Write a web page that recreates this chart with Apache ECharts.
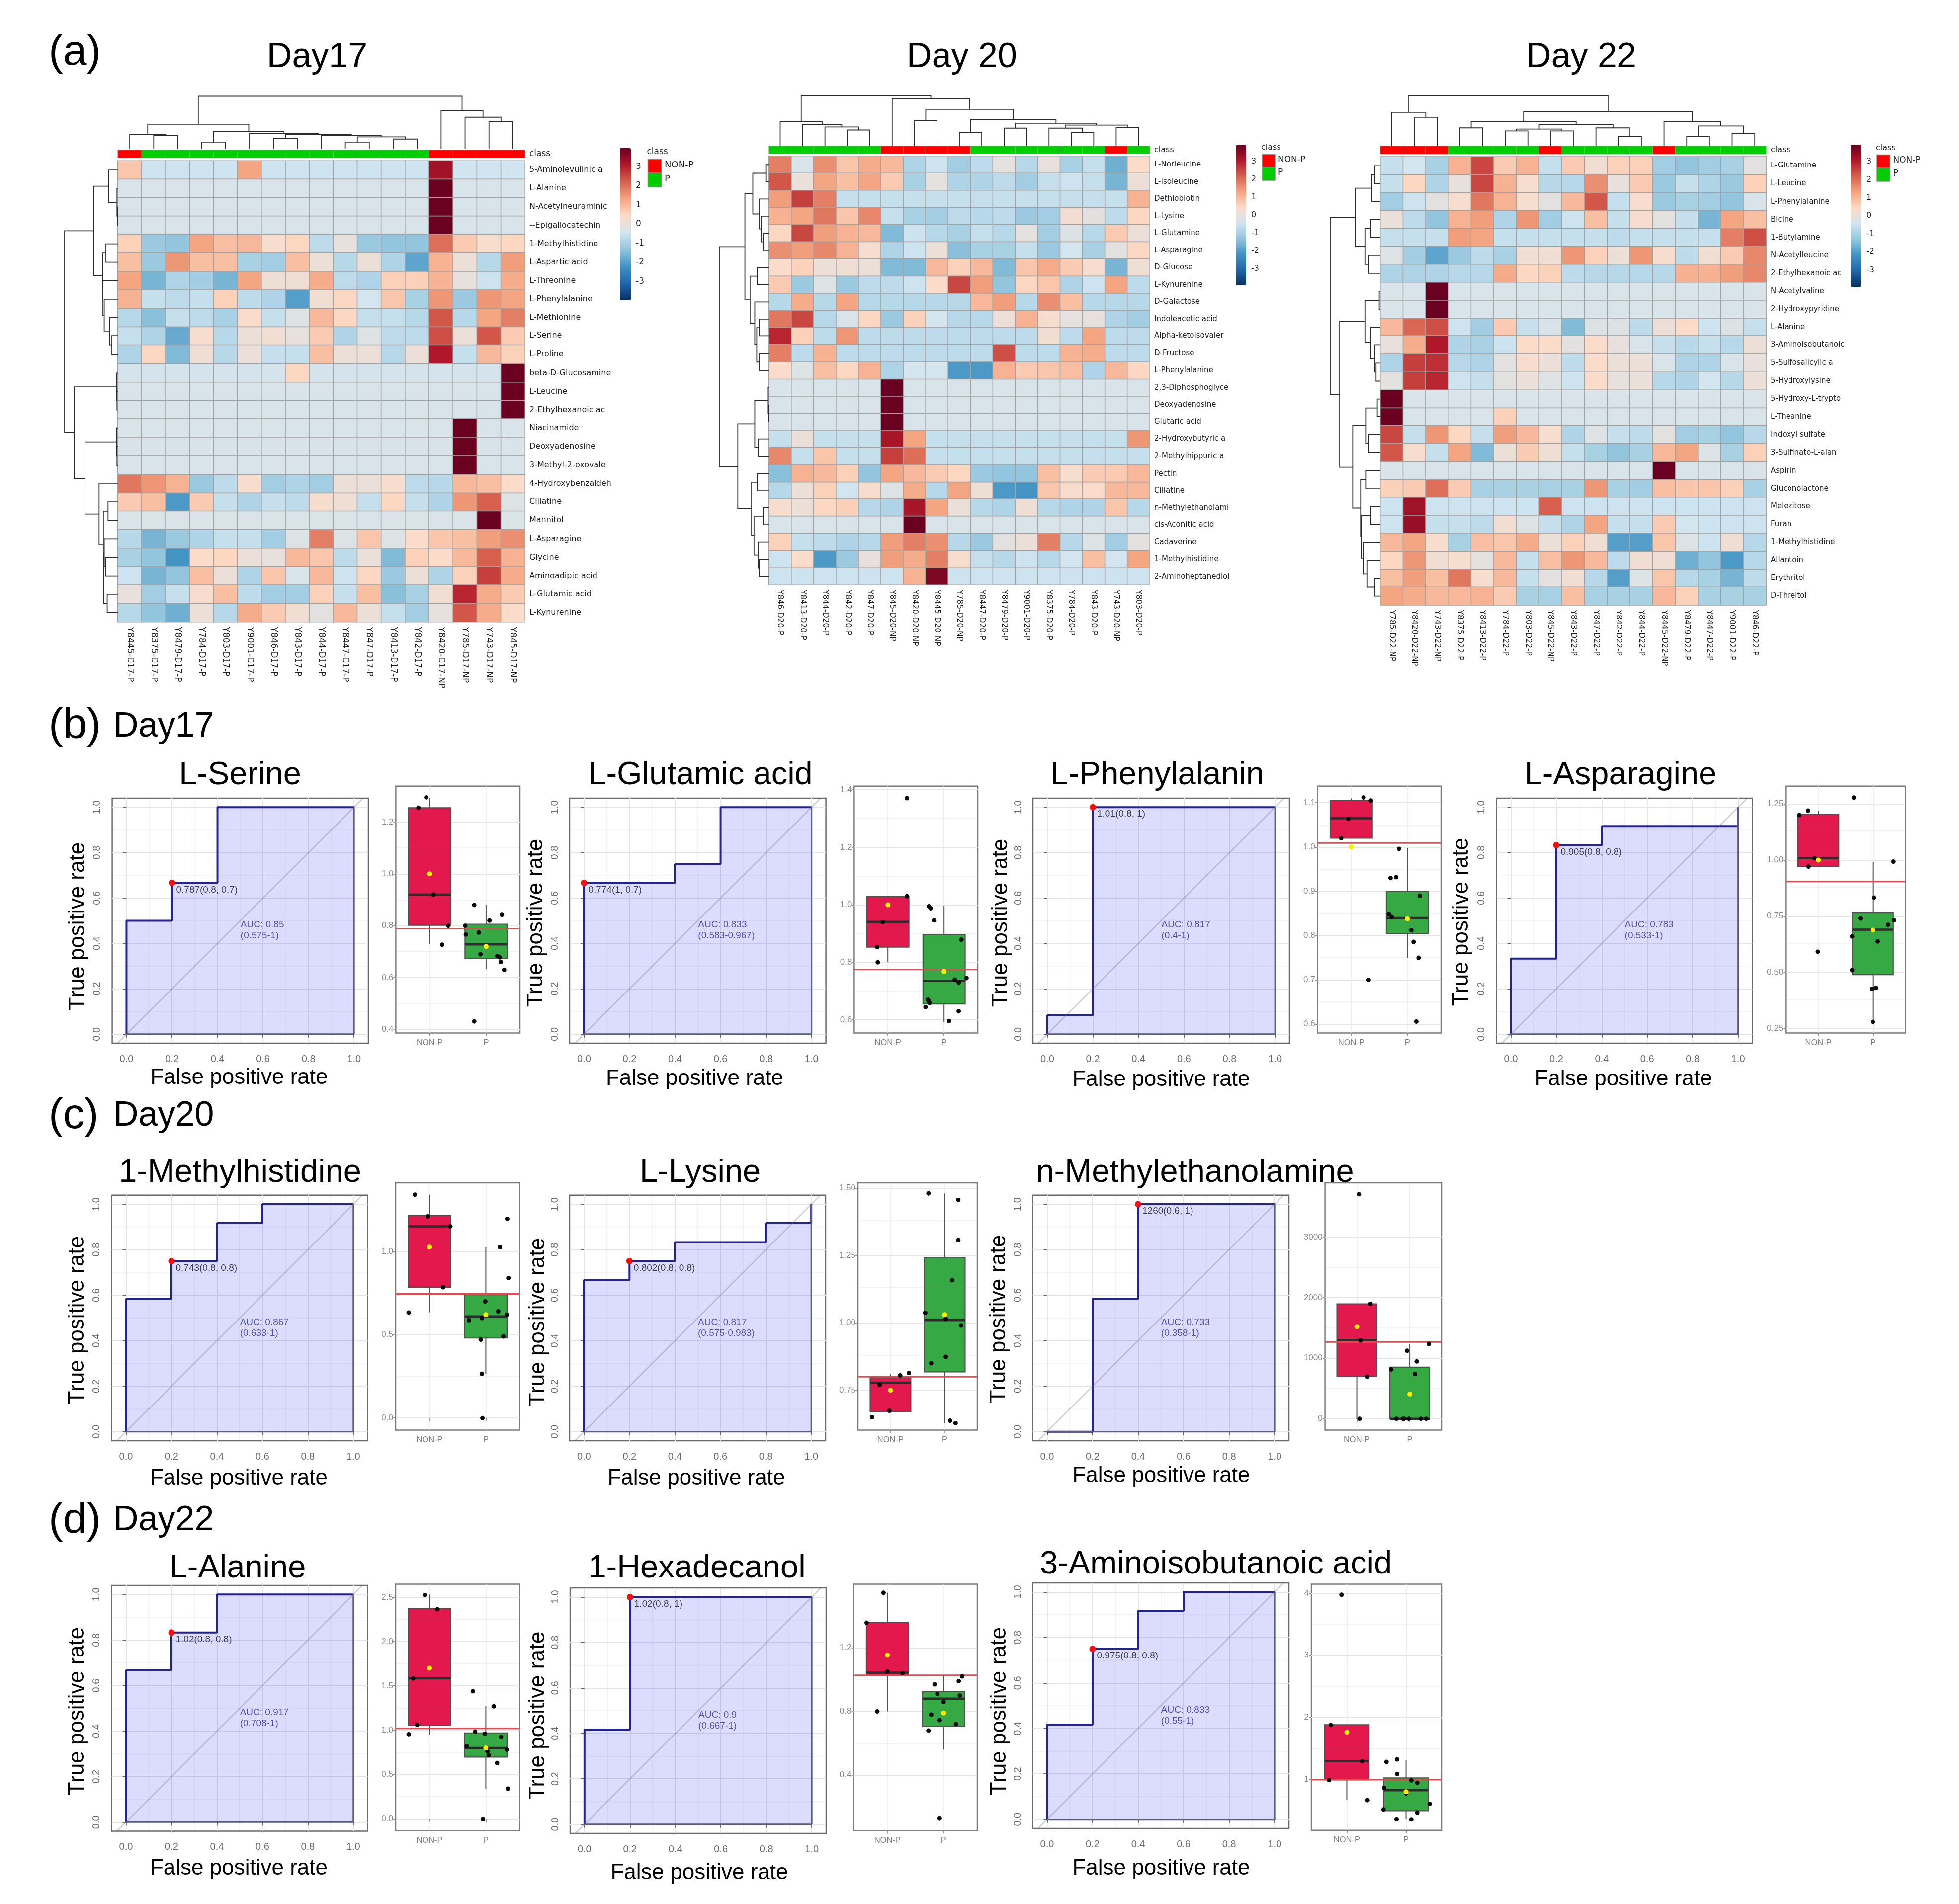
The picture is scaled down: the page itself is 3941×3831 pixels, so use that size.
<!DOCTYPE html>
<html><head><meta charset="utf-8"><style>html,body{margin:0;padding:0;background:#fff}#c{width:3941px;height:3831px}</style>
<script src="https://cdn.jsdelivr.net/npm/echarts@6/dist/echarts.min.js"></script></head>
<body><div id="c"></div><script>
// ---------- heatmap data ----------
const d17Rows=['5-Aminolevulinic a','L-Alanine','N-Acetylneuraminic','--Epigallocatechin','1-Methylhistidine','L-Aspartic acid','L-Threonine','L-Phenylalanine','L-Methionine','L-Serine','L-Proline','beta-D-Glucosamine','L-Leucine','2-Ethylhexanoic ac','Niacinamide','Deoxyadenosine','3-Methyl-2-oxovale','4-Hydroxybenzaldeh','Ciliatine','Mannitol','L-Asparagine','Glycine','Aminoadipic acid','L-Glutamic acid','L-Kynurenine'];
const d17Cols=['Y8445-D17-P','Y8375-D17-P','Y8479-D17-P','Y784-D17-P','Y803-D17-P','Y9001-D17-P','Y846-D17-P','Y843-D17-P','Y844-D17-P','Y8447-D17-P','Y847-D17-P','Y8413-D17-P','Y842-D17-P','Y8420-D17-NP','Y785-D17-NP','Y743-D17-NP','Y845-D17-NP'];
const d17Class=[1,0,0,0,0,0,0,0,0,0,0,0,0,1,1,1,1];
const d17Vals=[
[.8,-.5,-.5,-.5,-.5,1.3,-.5,-.5,-.5,-.5,-.5,-.5,-.5,3.3,-.45,-.45,-.45],
[-.3,-.3,-.3,-.3,-.3,-.3,-.3,-.3,-.3,-.3,-.3,-.3,-.3,3.9,-.3,-.3,-.3],
[-.3,-.3,-.3,-.3,-.3,-.3,-.3,-.3,-.3,-.3,-.3,-.3,-.3,3.9,-.3,-.3,-.3],
[-.3,-.3,-.3,-.3,-.3,-.3,-.3,-.3,-.3,-.3,-.3,-.3,-.3,3.9,-.3,-.3,-.3],
[.6,-1.2,-1.3,1.3,.9,1,.3,.5,-.7,0,-1.2,-1.3,-1.3,2,.7,.3,.5],
[.9,-1.2,1.5,.9,.9,-1,-1.1,.9,.1,-.8,.1,-.9,-1.9,1.1,.1,-.8,1.4],
[1.3,-1.6,-.9,-1.1,-1.6,1.3,.15,.15,1.2,-.7,-.9,.6,.6,1.1,0,-.5,1.2],
[1.1,-.6,-.7,-.6,.6,-.7,-.9,-2,.2,.5,-.4,.8,-1,1.5,-1.2,1.5,1.3],
[-.8,-1.4,-.6,-.7,-1,.4,-.6,-.2,1,.5,-.6,-.6,-.8,2.3,-.8,1.3,1.8],
[-.6,-.9,-1.8,.3,-.8,.1,.2,0,.7,-.9,-.2,-.7,-.7,2.4,.1,2.3,.7],
[-.9,.5,-1.5,.15,-.8,.05,-.6,-.6,.9,.1,.1,-.8,.1,3.1,-.6,1,.6],
[-.35,-.35,-.35,-.35,-.35,-.35,-.35,.5,-.35,-.35,-.35,-.35,-.35,-.35,-.35,-.35,3.9],
[-.3,-.3,-.3,-.3,-.3,-.3,-.3,-.3,-.3,-.3,-.3,-.3,-.3,-.3,-.3,-.3,3.9],
[-.3,-.3,-.3,-.3,-.3,-.3,-.3,-.3,-.3,-.3,-.3,-.3,-.3,-.3,-.3,-.3,3.9],
[-.3,-.3,-.3,-.3,-.3,-.3,-.3,-.3,-.3,-.3,-.3,-.3,-.3,-.3,3.9,-.3,-.3],
[-.3,-.3,-.3,-.3,-.3,-.3,-.3,-.3,-.3,-.3,-.3,-.3,-.3,-.3,3.9,-.3,-.3],
[-.3,-.3,-.3,-.3,-.3,-.3,-.3,-.3,-.3,-.3,-.3,-.3,-.3,-.3,3.9,-.3,-.3],
[1.9,1.5,1.1,-1.2,-.7,.3,-1.1,-.9,-1.1,.1,.05,.3,-.7,-.8,1,.9,.4],
[.7,.9,-2.1,.7,-.6,-.9,-.6,-.7,.3,.15,-.6,.5,-.6,-.9,1.5,2.2,-.2],
[-.25,-.25,-.25,-.25,-.25,-.25,-.25,-.25,-.25,-.25,-.25,-.25,-.25,-.25,-.25,3.9,-.25],
[-.8,-1.6,-1.2,-.9,-.6,-.6,-1.1,-.2,1.8,-.2,.8,-.2,.4,.8,.9,1.4,1.6],
[-1,-1.3,-2.2,.4,.5,.05,0,1,.8,-.7,.05,-1.5,.6,.4,1,2.2,1.1],
[-.5,-1.6,-1.3,.9,.1,-.9,.8,-.3,1,-.5,.5,-1.2,.1,-.9,.6,2.6,1.2],
[0,-1.1,-.6,.3,.9,-.7,-1.1,-1.1,.6,-.6,.9,-1.4,-1,.2,2.9,1.2,.7],
[-.8,-1.3,-1.7,.1,-.8,1.2,.7,.2,-.1,1,.1,-.6,-1.1,0,2.3,1.2,.4]];
const d20Rows=['L-Norleucine','L-Isoleucine','Dethiobiotin','L-Lysine','L-Glutamine','L-Asparagine','D-Glucose','L-Kynurenine','D-Galactose','Indoleacetic acid','Alpha-ketoisovaler','D-Fructose','L-Phenylalanine','2,3-Diphosphoglyce','Deoxyadenosine','Glutaric acid','2-Hydroxybutyric a','2-Methylhippuric a','Pectin','Ciliatine','n-Methylethanolami','cis-Aconitic acid','Cadaverine','1-Methylhistidine','2-Aminoheptanedioi'];
const d20Cols=['Y846-D20-P','Y8413-D20-P','Y844-D20-P','Y842-D20-P','Y847-D20-P','Y845-D20-NP','Y8420-D20-NP','Y8445-D20-NP','Y785-D20-NP','Y8447-D20-P','Y8479-D20-P','Y9001-D20-P','Y8375-D20-P','Y784-D20-P','Y843-D20-P','Y743-D20-NP','Y803-D20-P'];
const d20Class=[0,0,0,0,0,1,1,1,1,0,0,0,0,0,0,1,0];
const d20Vals=[
[1.8,-.3,1.6,.8,1.2,1,-.9,-.5,-1.1,-.7,-.05,-.8,0,-1,-.6,-1.7,.4],
[2.3,.05,1.3,.9,1.3,.7,-1,-.1,-.9,-.9,-.7,-1.1,-.6,-.5,-.6,-1.6,.1],
[1.4,2.6,1.8,-.6,-.6,-.6,-.6,-.6,-.6,-.6,-.6,-.6,-.6,-.6,-.6,-.6,1.1],
[1.1,1.3,1.9,.8,1.7,-.6,-1,-1.1,-.7,-.8,-.7,-1.2,-1.1,.2,-.1,-.7,.5],
[.5,2.5,1.4,1.1,1,-1.5,-.5,-.8,-1,-.6,-.8,-.05,-1.1,-.2,-.8,.7,.1],
[1.6,1.4,1.7,1.1,.3,-.9,-.5,.1,-1.4,-1,-1,-.6,-1.2,-.4,-1,-.1,.5],
[.4,.6,.1,.15,.1,-1.5,-1.5,1,.6,1,-1.5,.8,1.2,.7,.3,-1.6,.15],
[.7,-1.2,-.2,-1.2,-.7,-.7,-.5,.4,2.5,1.4,-1.3,.5,.8,-.9,-.5,1.3,-.7],
[-.8,1.2,-.8,1.3,-.8,-.8,-.8,-.8,-.8,1,1.4,-.8,1.6,.9,-.8,-.8,-.8],
[1.9,2.5,-.8,-.3,.5,-1.2,.6,-.4,-.8,-.8,.1,1.1,.3,-.05,0,-.9,-1.1],
[2.9,.6,-.7,1.5,-.7,-.7,-.7,-.7,-.7,-.7,-.7,-.7,.2,-.7,1.3,-.7,-.7],
[1.8,-.7,1.1,-.7,-.7,-.7,-.7,-.7,-.7,-.7,2.4,-.7,-.7,1.1,1.2,-.7,-.7],
[.4,-.2,.9,.5,1.1,-.9,-.4,-.4,-2.1,-2.1,1.1,.7,.8,.9,-.9,1,.5],
[-.3,-.3,-.3,-.3,-.3,3.9,-.3,-.3,-.3,-.3,-.3,-.3,-.3,-.3,-.3,-.3,-.3],
[-.3,-.3,-.3,-.3,-.3,3.9,-.3,-.3,-.3,-.3,-.3,-.3,-.3,-.3,-.3,-.3,-.3],
[-.3,-.3,-.3,-.3,-.3,3.9,-.3,-.3,-.3,-.3,-.3,-.3,-.3,-.3,-.3,-.3,-.3],
[-.6,.1,-.6,-.6,-.6,3.2,1.3,-.6,-.6,-.6,-.6,-.6,-.6,-.6,-.6,-.6,1.5],
[1.7,-.6,.8,-.6,-.6,2.6,2,-.6,-.6,-.6,-.6,-.6,-.6,-.6,-.6,-.6,-.6],
[-1.4,1.1,1,.6,-1.3,1.3,1,.7,.5,-1.2,-1.3,-1.3,.9,.3,.7,.7,1],
[-.8,.1,.6,-.4,.3,-.2,1.2,-.8,1.3,.15,-2.1,-2.2,.8,.3,.4,1,1],
[.3,.1,.5,.6,-.8,-.9,3.2,1.3,.05,-.8,-.9,.15,-.8,-.9,-.9,.8,-.8],
[-.3,-.3,-.3,-.3,-.3,-.3,3.9,-.3,-.3,-.3,-.3,-.3,-.3,-.3,-.3,-.3,-.3],
[.6,-.6,-.7,-.9,-.8,1.4,1.8,1.6,-.8,-1.2,-.1,.1,1.8,-.8,-.2,-1.1,-.05],
[-.5,.4,-2.1,-1.2,0,1.4,1.2,1.8,.3,-.6,-.8,-.5,-.8,-.4,.9,-.4,1.3],
[-.5,-.5,-.5,-.5,-.5,-.5,1.1,3.7,-.5,-.5,-.5,-.5,-.5,-.5,-.5,-.5,-.5]];
const d22Rows=['L-Glutamine','L-Leucine','L-Phenylalanine','Bicine','1-Butylamine','N-Acetylleucine','2-Ethylhexanoic ac','N-Acetylvaline','2-Hydroxypyridine','L-Alanine','3-Aminoisobutanoic','5-Sulfosalicylic a','5-Hydroxylysine','5-Hydroxy-L-trypto','L-Theanine','Indoxyl sulfate','3-Sulfinato-L-alan','Aspirin','Gluconolactone','Melezitose','Furan','1-Methylhistidine','Allantoin','Erythritol','D-Threitol'];
const d22Cols=['Y785-D22-NP','Y8420-D22-NP','Y743-D22-NP','Y8375-D22-P','Y8413-D22-P','Y784-D22-P','Y803-D22-P','Y845-D22-NP','Y843-D22-P','Y847-D22-P','Y842-D22-P','Y844-D22-P','Y8445-D22-NP','Y8479-D22-P','Y8447-D22-P','Y9001-D22-P','Y846-D22-P'];
const d22Class=[1,1,1,0,0,0,0,1,0,0,0,0,1,0,0,0,0];
const d22Vals=[
[-.6,-.4,-1,1.1,2.5,.7,1.1,-.6,.7,.2,.6,.6,-1.1,-1.3,-1.1,-1,-.1],
[-.6,.5,-.9,0,2.5,1.1,.3,-.8,-.8,1.6,0,.7,-1.2,-.6,-.9,-1.2,.6],
[-1.1,-.5,-.1,.3,1.9,1.1,.3,-.1,1,2.3,-.6,.3,-1.2,-1,-1.1,-1.3,-.3],
[.05,-.7,-1.3,1.1,1.4,-.9,1.5,-1.1,-.5,.9,-.6,.3,-.1,-.6,-1.6,1.3,.9],
[-.6,-.6,-.6,1.4,1.3,-.6,-.6,-.6,-.6,-.6,-.7,-.6,-.6,-.6,-.6,1.8,2.4],
[-.2,-1.1,-1.9,-1.2,-.7,-1,.2,.2,1.5,.6,.1,1.5,.3,-.7,.2,.7,1.7],
[-.9,-.9,-.9,-.8,-.8,1.2,.5,.6,-.7,-.8,-.8,-.8,-.8,1.1,1.1,1.4,1.7],
[-.3,-.3,3.9,-.3,-.3,-.3,-.3,-.3,-.3,-.3,-.3,-.3,-.3,-.3,-.3,-.3,-.3],
[-.3,-.3,3.9,-.3,-.3,-.3,-.3,-.3,-.3,-.3,-.3,-.3,-.3,-.3,-.3,-.3,-.3],
[1,2.1,2.4,-.5,-1.1,.7,-.6,-.3,-1.5,-.2,-.2,-.7,.1,.4,-.5,-.2,-.6],
[0,1.2,3.1,-.9,-1,-.5,.4,.4,-.1,.4,0,-.3,-.6,-.8,-.6,-.8,.1],
[-.9,2.6,2.8,-.8,-.9,-.1,.3,.05,-.7,.4,.1,.1,-.3,-.9,-.9,-.3,0],
[-.1,2.6,2.9,-.5,-.6,-.1,.05,-.2,-.5,.4,0,.05,-.8,-.9,-.4,-.8,.1],
[3.9,-.3,-.3,-.3,-.3,-.3,-.3,-.3,-.3,-.3,-.3,-.3,-.3,-.3,-.3,-.3,-.3],
[3.9,-.3,-.3,-.3,-.3,.6,-.3,-.3,-.3,-.3,-.3,-.3,-.3,-.3,-.3,-.3,-.3],
[2.5,-.6,1.5,.5,-.6,1.4,1,.3,-.9,-.2,-.6,-.7,-.1,-1.1,-1,-1.3,-.8],
[2.3,.3,-.6,1.3,-1.5,.1,.7,.15,-.6,-1,-1.3,-1,1,1.3,-.2,-1,.6],
[-.3,-.3,-.3,-.3,-.3,-.3,-.3,-.3,-.3,-.3,-.3,-.3,3.9,-.3,-.3,-.3,-.3],
[.6,.7,2,.7,-1,-1,-1,-1,-1,1.5,-1,-1.1,.9,.8,.8,.6,-1],
[-.5,3.3,-.5,-.5,-.5,-.5,-.5,2.2,-.5,-.5,-.5,-.5,-.5,-.5,-.5,-.5,-.5],
[-.5,3.4,-.6,-.6,-.7,.2,-.2,-.6,-.9,1.3,-.6,-.6,.7,-.4,-.5,-.5,-.5],
[1,1.3,.3,-1,.9,.8,1.2,.1,.6,.2,-2,-2,.8,-.2,-.5,.15,-.8],
[.5,1.5,.2,.3,-.1,1,-.6,.9,1.5,1,-.7,.2,.15,-1.7,-1.3,-2.1,-.8],
[.9,1.4,.9,1.9,.3,1,-.6,-.1,.2,-.8,-2,-.2,.8,-.8,-1,-1.6,-.7],
[1.3,1.2,1,1,1.1,.7,-1,-1,.9,-1,-1,-1,1,.6,-1,-1,-1]];
// dendrograms: [height, left, right]; a number is a leaf index
const d17Top=[121,[57,[33,0,[31,1,2]],[40,[16,3,4],[36,5,[34,[24,6,7],[31,8,[28,[16,9,10],[23,11,12]]]]]]],[88,13,[73,14,[63,15,16]]]];
const d17Left=[125,[57,[22,0,[2,1,[1,2,3]]],[36,[28,4,5],[35,6,[32,7,[19,8,[14,9,10]]]]]],[102,[3,11,[2,12,13]],[77,[3,14,[2,15,16]],[44,17,[34,[23,18,19],[33,[32,20,[29,21,22]],[25,23,24]]]]]]];
const d20Top=[135,[66,0,[58,1,[51,2,[43,3,4]]]],[126,5,[98,[68,6,7],[71,[36,8,9],[61,[48,10,11],[56,[48,12,[36,13,14]],[50,15,16]]]]]]];
const d20Left=[126,[61,[41,[8,0,1],[24,2,[20,3,[14,4,5]]]],[48,[30,6,7],[36,8,[31,[25,9,10],[24,11,12]]]]],[79,[36,[2,13,[1,14,15]],[27,16,17]],[44,[30,18,19],[38,[15,20,21],[27,22,[25,23,24]]]]]];
const d22Top=[132,[89,0,[76,1,2]],[91,[65,[48,3,4],[57,[45,[40,5,6],[40,7,8]],[48,9,[26,10,11]]]],[65,12,[53,[26,13,14],[33,15,16]]]]];
const d22Left=[127,[63,[22,[14,0,1],2],[38,[25,3,4],[30,5,6]]],[103,[38,[3,7,8],[25,9,[15,10,[11,11,12]]]],[70,[36,[8,13,14],[30,15,16]],[50,[36,17,18],[48,[24,19,20],[42,21,[33,22,[15,23,24]]]]]]]];
const legendTicks=[-3,-2,-1,0,1,2,3];
const classNames=['NON-P','P'];
// ---------- ROC data ----------
const panelNames=['L-Serine','L-Glutamic acid','L-Phenylalanin','L-Asparagine','1-Methylhistidine','L-Lysine','n-Methylethanolamine','L-Alanine','1-Hexadecanol','3-Aminoisobutanoic acid'];
const rocFpr=[[0,0,.2,.2,.4,.4,1],[0,0,.4,.4,.6,.6,1],[0,0,.2,.2,1],[0,0,.2,.2,.4,.4,1,1],[0,0,.2,.2,.4,.4,.6,.6,1],[0,0,.2,.2,.4,.4,.8,.8,1,1],[0,.2,.2,.4,.4,1],[0,0,.2,.2,.4,.4,1],[0,0,.2,.2,1],[0,0,.2,.2,.4,.4,.6,.6,1]];
const rocTpr=[[0,.5,.5,.667,.667,1,1],[0,.667,.667,.75,.75,1,1],[0,.083,.083,1,1],[0,.333,.333,.833,.833,.917,.917,1],[0,.583,.583,.75,.75,.917,.917,1,1],[0,.667,.667,.75,.75,.833,.833,.917,.917,1],[0,0,.583,.583,1,1],[0,.667,.667,.833,.833,1,1],[0,.417,.417,1,1],[0,.417,.417,.75,.75,.917,.917,1,1]];
const cutPoints=[[.2,.667],[0,.667],[.2,1],[.2,.833],[.2,.75],[.2,.75],[.4,1],[.2,.833],[.2,1],[.2,.75]];
const cutLabels=['0.787(0.8, 0.7)','0.774(1, 0.7)','1.01(0.8, 1)','0.905(0.8, 0.8)','0.743(0.8, 0.8)','0.802(0.8, 0.8)','1260(0.6, 1)','1.02(0.8, 0.8)','1.02(0.8, 1)','0.975(0.8, 0.8)'];
const aucLabels=['AUC: 0.85\n(0.575-1)','AUC: 0.833\n(0.583-0.967)','AUC: 0.817\n(0.4-1)','AUC: 0.783\n(0.533-1)','AUC: 0.867\n(0.633-1)','AUC: 0.817\n(0.575-0.983)','AUC: 0.733\n(0.358-1)','AUC: 0.917\n(0.708-1)','AUC: 0.9\n(0.667-1)','AUC: 0.833\n(0.55-1)'];
const rocTicks=[0,.2,.4,.6,.8,1];
const rocMinor=[.1,.3,.5,.7,.9];
// ---------- box plot data: [x, low, q1, median, q3, high] ----------
const boxStats=[
[[1,.73,.802,.92,1.255,1.294],[2,.633,.674,.728,.806,.88]],
[[1,.80,.853,.941,1.029,1.03],[2,.592,.655,.736,.897,.997]],
[[1,1.02,1.02,1.065,1.105,1.11],[2,.75,.805,.84,.90,.998]],
[[1,.971,.971,1.008,1.203,1.218],[2,.28,.49,.69,.764,.991]],
[[1,.634,.785,1.15,1.215,1.34],[2,.265,.48,.61,.74,1.025]],
[[1,.67,.67,.778,.797,.81],[2,.627,.818,1.01,1.242,1.48]],
[[1,0,697,1300,1896,1896],[2,0,0,0,852,1236]],
[[1,.952,1.054,1.585,2.37,2.53],[2,.34,.697,.80,.97,1.274]],
[[1,.8,1.027,1.043,1.357,1.545],[2,.56,.706,.88,.925,1.02]],
[[1,.66,.99,1.29,1.88,1.88],[2,.355,.49,.82,1.02,1.31]]];
const boxMeans=[[1,.72],[1,.768],[1,.838],[1,.688],[1.026,.62],[.75,1.03],[1519,407],[1.70,.80],[1.153,.79],[1.76,.795]];
const boxCutoffs=[.789,.775,1.009,.904,.745,.80,1267,1.02,1.027,.99];
const boxDots=[
[[.8,1.255],[.94,1.295],[1.07,.92],[1.33,.8],[1.22,.727],[1.79,.88],[2.28,.842],[2.06,.82],[1.63,.8],[1.64,.766],[1.87,.774],[1.9,.69],[2.2,.683],[2.24,.678],[2.26,.66],[2.32,.63],[1.79,.431]],
[[1.34,1.371],[1.34,1.03],[.91,.94],[.81,.853],[.82,.8],[1.73,.995],[1.76,.988],[1.82,.946],[2.31,.879],[2.19,.74],[2.26,.73],[2.4,.745],[1.71,.67],[1.73,.665],[1.74,.659],[1.67,.644],[2.26,.63],[2.09,.596]],
[[1.22,1.112],[1.35,1.105],[.95,1.064],[.82,1.02],[1.31,.7],[1.85,.996],[1.7,.93],[1.8,.932],[2.22,.89],[1.67,.848],[1.72,.842],[2.07,.812],[2.11,.786],[2.2,.75],[2.16,.606]],
[[.65,1.2],[.81,1.22],[.93,1.008],[.82,.971],[.99,.592],[1.65,1.278],[2.38,.993],[2.02,.833],[1.77,.74],[2.28,.712],[2.39,.732],[1.62,.66],[2.09,.638],[1.62,.51],[1.98,.427],[2.06,.431],[2,.28]],
[[.74,1.34],[.97,1.21],[1.37,1.15],[1.24,.785],[.63,.633],[2.38,1.195],[2.25,1.025],[2.4,.84],[1.99,.7],[2.22,.64],[1.7,.587],[1.93,.6],[2.37,.62],[2.31,.49],[1.91,.47],[1.93,.265],[1.94,0]],
[[.66,.65],[.98,.674],[1.18,.805],[.8,.77],[1.34,.814],[1.7,1.48],[2.25,1.456],[2.25,1.307],[2.14,1.158],[1.64,1.037],[2.02,1.014],[2.3,.99],[2.02,.874],[1.75,.85],[2.1,.637],[2.2,.628]],
[[1.04,3705],[1.26,1896],[1.07,1293],[1.2,693],[1.05,0],[2.36,1236],[1.95,1123],[2.13,946],[1.65,814],[2.1,739],[1.75,0],[1.87,0],[1.89,0],[1.98,0],[2.21,0],[2.31,0]],
[[.92,2.525],[1.14,2.365],[.71,1.585],[.78,1.06],[.63,.955],[1.77,1.44],[2.14,1.27],[1.81,.985],[1.98,.96],[2.27,.925],[1.66,.82],[2.37,.78],[2.03,.76],[2.05,.72],[2.2,.63],[2.39,.34],[1.95,0]],
[[.93,1.545],[.63,1.357],[.82,.8],[1.27,1.04],[1,1.05],[2.27,.99],[1.84,.97],[1.89,.91],[1.78,.78],[2.29,.9],[2,.86],[1.93,.745],[2.22,.72],[1.73,.68],[1.93,.13],[2.33,1.02]],
[[.91,3.98],[.73,1.875],[1.26,1.29],[.7,.985],[1.35,.66],[1.67,1.28],[1.85,1.32],[1.85,1.085],[2.09,.98],[2.19,.94],[1.63,.86],[2,.77],[2.4,.6],[1.62,.51],[2.19,.46],[1.84,.355],[2.09,.35]]];
const boxTicks=[[.4,.6,.8,1,1.2],[.6,.8,1,1.2,1.4],[.6,.7,.8,.9,1,1.1],[.25,.5,.75,1,1.25],[0,.5,1],[.75,1,1.25,1.5],[0,1000,2000,3000],[0,.5,1,1.5,2,2.5],[.4,.8,1.2],[1,2,3,4]];
const boxDecimals=[1,1,1,2,1,2,0,1,1,0];
// ---------- layout (pixels), kept apart from the data ----------
const heatLayout=[
 {rows:d17Rows,cols:d17Cols,cls:d17Class,vals:d17Vals,top:d17Top,left:d17Left,x0:237,x1:1056,y0:323.5,y1:1251.5,by0:302,by1:317.5,dy0:193.5,dy1:300,lx0:130,fs:16,cfs:17,
  bar:[1247,298,22,306],u:3.97,lx:1303.5,ly:320,lw:27.5,lh:28.2},
 {rows:d20Rows,cols:d20Cols,cls:d20Class,vals:d20Vals,top:d20Top,left:d20Left,x0:1547,x1:2313,y0:314,y1:1177,by0:294,by1:309,dy0:192,dy1:294,lx0:1447,fs:15,cfs:15.5,
  bar:[2486.5,291.7,20.5,282.5],u:3.92,lx:2539,ly:310.5,lw:26,lh:26.3},
 {rows:d22Rows,cols:d22Cols,cls:d22Class,vals:d22Vals,top:d22Top,left:d22Left,x0:2777,x1:3553,y0:315.4,y1:1217.6,by0:294,by1:310,dy0:193,dy1:294,lx0:2676,fs:15,cfs:15.5,
  bar:[3723,291.6,21,285.4],u:3.92,lx:3776,ly:311.5,lw:26.5,lh:26.7}];
const heatMaxes=[3.95,3.95,3.95];
const rocBox=[[225.6,1606,515.4,493],[1146,1606,515.6,493],[2078,1606,516,493],[3010.7,1606,514.7,493],[224.7,2404.7,514.9,494.3],[1146,2404.7,515,494.3],[2077.6,2404.7,515.4,494.3],[224.7,3190,514.9,494.6],[1147,3195,515,494],[2077.6,3185,515.4,494]];
const plotBox=[[796.4,1581.7,249.6,496.9],[1718.4,1581.7,248.6,496.9],[2650.6,1581.7,248.4,496.9],[3592.4,1581.7,241,496.9],[796,2380,249.4,497.6],[1726,2380,240,497.6],[2665.6,2380,234.4,497.6],[796,3187.6,249.4,496],[1717.5,3187.6,248.5,496],[2638,3187.6,262,495.1]];
const boxRange=[[.386,1.3386],[.554,1.413],[.58,1.1376],[.23,1.329],[-.0726,1.411],[.602,1.519],[-188,3893],[-.134,2.6475],[.0507,1.5985],[.174,4.15]];
const titlePos=[[483,1560],[1409,1560],[2328,1560],[3260,1560],[483,2360],[1408.6,2360],[2404,2360],[478,3156],[1402,3156],[2446,3148]];
const falsePos=[[481,2169],[1397.5,2171],[2336,2173],[3266,2172],[480.5,2975],[1401,2975],[2336,2970],[480.5,3760],[1407,3769],[2336,3760]];
const truePos=[[157,1864],[1079,1857],[2014,1857],[2941,1855],[156,2656],[1083,2660],[2010,2654],[156,3443],[1083,3451.6],[2011,3443]];
const headings=[['(a)',98,106,86,'left'],['Day17',638,116,70,'center'],['Day 20',1935,116,70,'center'],['Day 22',3181,116,70,'center'],['(b)',98,1461,86,'left'],['Day17',228,1463,70,'left'],['(c)',98,2246,86,'left'],['Day20',228,2246,70,'left'],['(d)',98,3060,86,'left'],['Day22',228,3060,70,'left']];

const palette=['#053061','#2166ac','#4393c3','#92c5de','#d1e5f0','#fddbc7','#f4a582','#d6604d','#b2182b','#67001f'];
const SANS='"Liberation Sans",Arial,sans-serif', DV='"DejaVu Sans",sans-serif';
const grids=[],xAxes=[],yAxes=[],series=[],visualMaps=[],graphics=[];
function addGrid(x,y,w,h,xa,ya){const i=grids.length;grids.push({left:x,top:y,width:w,height:h,containLabel:false,show:false});
 xa.gridIndex=i;ya.gridIndex=i;xAxes.push(xa);yAxes.push(ya);return i;}
function addGridShown(x,y,w,h,xa,ya,bc){const i=addGrid(x,y,w,h,xa,ya);Object.assign(grids[i],{show:true,borderColor:bc,borderWidth:2.5,backgroundColor:'#fff'});return i;}
const hidden=o=>Object.assign({type:'value',show:false},o);
function text(t,x,y,fs,align,opt){graphics.push({type:'text',x,y,rotation:(opt&&opt.rot)||0,z:50,style:{text:t,fontSize:fs,fontFamily:(opt&&opt.ff)||SANS,fill:(opt&&opt.fill)||'#000',align:align||'center',verticalAlign:'middle'}});}
function walk(node,segs){if(typeof node==='number')return{p:node,h:0};
 const a=walk(node[1],segs),b=walk(node[2],segs);segs.push([a.p,a.h,a.p,node[0],b.p,node[0],b.p,b.h]);return{p:(a.p+b.p)/2,h:node[0]};}
function dendro(idx,segs,swap){series.push({type:'custom',xAxisIndex:idx,yAxisIndex:idx,silent:true,clip:false,
 encode:{x:swap?[1,3,5,7]:[0,2,4,6],y:swap?[0,2,4,6]:[1,3,5,7]},data:segs,
 renderItem:(p,api)=>{const pts=[];for(let k=0;k<4;k++){const a=api.value(2*k),b=api.value(2*k+1);pts.push(api.coord(swap?[b,a]:[a,b]));}
  return{type:'polyline',shape:{points:pts},style:{stroke:'#2b2b2b',lineWidth:1.8,fill:null}};}});}

heatLayout.forEach((L,hi)=>{
 const n=L.rows.length,m=L.cols.length,W=L.x1-L.x0,H=L.y1-L.y0;
 // matrix
 let g=addGrid(L.x0,L.y0,W,H,
  {type:'category',data:L.cols,position:'bottom',axisLine:{show:false},axisTick:{show:false},splitArea:{show:false},axisLabel:{rotate:-90,interval:0,fontSize:L.cfs,fontFamily:DV,color:'#222',margin:10}},
  {type:'category',data:L.rows,inverse:true,position:'right',axisLine:{show:false},axisTick:{show:false},axisLabel:{interval:0,fontSize:L.fs,fontFamily:DV,color:'#222',margin:9}});
 const cells=[];L.vals.forEach((r,i)=>r.forEach((v,j)=>cells.push([j,i,v])));
 const si=series.length;
 series.push({type:'heatmap',xAxisIndex:g,yAxisIndex:g,data:cells,silent:true,progressive:0,itemStyle:{borderColor:'#a3a3a3',borderWidth:1.6}});
 visualMaps.push({type:'continuous',seriesIndex:si,min:-heatMaxes[hi],max:heatMaxes[hi],left:L.bar[0],top:L.bar[1],itemWidth:L.bar[2],itemHeight:L.bar[3],padding:0,text:null,calculable:false,hoverLink:false,inRange:{color:palette},textStyle:{fontSize:1,color:'rgba(0,0,0,0)'}});
 // class bar
 g=addGrid(L.x0,L.by0,W,L.by1-L.by0,{type:'category',data:L.cols,show:false},
  {type:'category',data:['class'],position:'right',axisLine:{show:false},axisTick:{show:false},axisLabel:{fontSize:L.fs+1,fontFamily:DV,color:'#222',margin:9}});
 series.push({type:'heatmap',xAxisIndex:g,yAxisIndex:g,silent:true,
  data:L.cls.map((c,j)=>({value:[j,0,c],itemStyle:{color:c?'#ff0000':'#00cd00',borderColor:'#9aa',borderWidth:.6}}))});
 // dendrograms
 const top=[];walk(L.top,top);
 g=addGrid(L.x0,L.dy0,W,L.dy1-L.dy0,hidden({min:-.5,max:m-.5}),hidden({min:0,max:L.top[0]}));
 dendro(g,top,false);
 const left=[];walk(L.left,left);
 g=addGrid(L.lx0,L.y0,L.x0-L.lx0,H,hidden({min:0,max:L.left[0],inverse:true}),hidden({min:-.5,max:n-.5,inverse:true}));
 dendro(g,left,true);
 // colour-bar ticks, on their own value axis
 g=addGrid(L.bar[0],L.bar[1],L.bar[2],L.bar[3],hidden({min:0,max:1}),
  {type:'value',position:'right',min:-L.u,max:L.u,axisLine:{show:false},splitLine:{show:false},axisTick:{show:false,customValues:legendTicks},
   axisLabel:{customValues:legendTicks,fontSize:L.fs+1,fontFamily:DV,color:'#222',margin:10,showMinLabel:true,showMaxLabel:true}});
 // class legend
 text('class',L.lx-2,L.ly-14,L.fs+1,'left',{ff:DV,fill:'#222'});
 classNames.forEach((c,k)=>{
  graphics.push({type:'rect',shape:{x:L.lx,y:L.ly+k*L.lh,width:L.lw,height:L.lh},z:50,style:{fill:k?'#00cd00':'#ff0000',stroke:'#8a9a8a',lineWidth:1.5}});
  text(c,L.lx+L.lw+6,L.ly+L.lh*(k+.5)-2,L.fs+2,'left',{ff:DV,fill:'#222'});
 });
});

const XMIN=-.063,XMAX=1.063,YMIN=-.04,YMAX=1.04,FILL='rgba(40,40,250,.16)',LINE='#24248f';
panelNames.forEach((name,i)=>{
 const R=rocBox[i];
 const axisStyle={axisLine:{show:false},axisTick:{show:true,customValues:rocTicks,length:7,lineStyle:{color:'#666',width:2}},
  splitLine:{show:true,lineStyle:{color:'#e4e4ea',width:2}},
  axisLabel:{customValues:rocTicks,formatter:v=>v.toFixed(1),fontSize:20,fontFamily:SANS,color:'#6a6a6a',showMinLabel:true,showMaxLabel:true}};
 let g=addGridShown(R[0],R[1],R[2],R[3],
  Object.assign({type:'value',min:XMIN,max:XMAX},axisStyle,{axisLabel:Object.assign({},axisStyle.axisLabel,{margin:22})}),
  Object.assign({type:'value',min:YMIN,max:YMAX},axisStyle,{axisLabel:Object.assign({},axisStyle.axisLabel,{rotate:90,margin:20})}),'#6b6b6b');
 const pts=rocFpr[i].map((x,k)=>[x,rocTpr[i][k]]);
 const last=pts[pts.length-1];
 series.push({type:'line',xAxisIndex:g,yAxisIndex:g,data:pts,symbol:'none',silent:true,z:3,lineStyle:{color:LINE,width:4},areaStyle:{color:FILL,origin:0,opacity:1}});
 series.push({type:'line',xAxisIndex:g,yAxisIndex:g,data:[last,[1,0],[0,0]],symbol:'none',silent:true,z:3,lineStyle:{color:'#5c5c80',width:3}});
 series.push({type:'line',xAxisIndex:g,yAxisIndex:g,data:[[YMIN,YMIN],[YMAX,YMAX]],symbol:'none',silent:true,z:3,lineStyle:{color:'rgba(110,110,120,.32)',width:2.5},
  markLine:{silent:true,symbol:'none',label:{show:false},animation:false,lineStyle:{color:'rgba(110,110,140,.09)',width:1.5,type:'solid'},
   data:rocMinor.map(v=>({xAxis:v})).concat(rocMinor.map(v=>({yAxis:v})))}});
 series.push({type:'scatter',xAxisIndex:g,yAxisIndex:g,silent:true,z:6,symbolSize:13,itemStyle:{color:'#f01010',opacity:1},
  data:[{value:cutPoints[i],label:{show:true,position:'right',distance:2,offset:[0,14],formatter:cutLabels[i],fontSize:19,fontFamily:SANS,color:'#3c3c48'}}]});
 series.push({type:'scatter',xAxisIndex:g,yAxisIndex:g,silent:true,z:6,symbolSize:1,itemStyle:{color:'rgba(0,0,0,0)'},
  data:[{value:[.5,.457],label:{show:true,position:'right',distance:0,align:'left',formatter:aucLabels[i],fontSize:19,lineHeight:22,fontFamily:SANS,color:'#2e2e96'}}]});
 // box plot
 const B=plotBox[i],dec=boxDecimals[i],tk=boxTicks[i];
 const minors=tk.slice(1).map((v,k)=>(v+tk[k])/2);
 g=addGridShown(B[0],B[1],B[2],B[3],
  {type:'value',min:.4,max:2.6,axisLine:{show:false},axisTick:{customValues:[1,2],length:6,lineStyle:{color:'#777',width:1.5}},splitLine:{show:true,lineStyle:{color:'#eaeaea',width:1.5}},
   axisLabel:{customValues:[1,2],formatter:v=>classNames[v-1],fontSize:16.5,fontFamily:SANS,color:'#808080',margin:11}},
  {type:'value',min:boxRange[i][0],max:boxRange[i][1],axisLine:{show:false},axisTick:{customValues:tk,length:5,lineStyle:{color:'#777',width:1.5}},splitLine:{show:true,lineStyle:{color:'#e6e6e6',width:2}},
   axisLabel:{customValues:tk,formatter:v=>(+v).toFixed(dec),fontSize:17,fontFamily:SANS,color:'#8a8a8a',margin:5,showMinLabel:true,showMaxLabel:true}},'#7c7c7c');
 series.push({type:'custom',xAxisIndex:g,yAxisIndex:g,silent:true,clip:false,z:3,encode:{x:0,y:[1,2,3,4,5]},data:boxStats[i],
  renderItem:(p,api)=>{const x=api.value(0),hw=.375,lo=api.value(1),q1=api.value(2),md=api.value(3),q3=api.value(4),hi=api.value(5);
   const c=(a,b)=>api.coord([a,b]);const tl=c(x-hw,q3),br=c(x+hw,q1),ml=c(x-hw,md),mr=c(x+hw,md),t=c(x,hi),b=c(x,lo);
   const stroke='#505050';
   return{type:'group',children:[
    {type:'line',shape:{x1:t[0],y1:t[1],x2:b[0],y2:b[1]},style:{stroke,lineWidth:2}},
    {type:'rect',shape:{x:tl[0],y:tl[1],width:br[0]-tl[0],height:br[1]-tl[1]},style:{fill:x===1?'#e3194d':'#36a945',stroke,lineWidth:2.2}},
    {type:'line',shape:{x1:ml[0],y1:ml[1],x2:mr[0],y2:mr[1]},style:{stroke:'#2c2c2c',lineWidth:4.5}}]};}});
 series.push({type:'line',xAxisIndex:g,yAxisIndex:g,silent:true,z:4,symbol:'none',data:[[.4,boxCutoffs[i]],[2.6,boxCutoffs[i]]],lineStyle:{color:'#e8484e',width:3},
  markLine:{silent:true,symbol:'none',label:{show:false},animation:false,lineStyle:{color:'rgba(120,120,120,.12)',width:1.5,type:'solid'},data:minors.map(v=>({yAxis:v}))}});
 series.push({type:'scatter',xAxisIndex:g,yAxisIndex:g,silent:true,z:5,symbolSize:9,itemStyle:{color:'#0a0a0a',opacity:1},data:boxDots[i]});
 series.push({type:'scatter',xAxisIndex:g,yAxisIndex:g,silent:true,z:6,symbolSize:10,itemStyle:{color:'#ffee00',opacity:1},data:[[1,boxMeans[i][0]],[2,boxMeans[i][1]]]});
 // titles
 text(name,titlePos[i][0],titlePos[i][1],65,'center');
 text('False positive rate',falsePos[i][0],falsePos[i][1],44,'center');
 text('True positive rate',truePos[i][0],truePos[i][1],44,'center',{rot:Math.PI/2});
});
headings.forEach(h=>text(h[0],h[1],h[2],h[3],h[4]));

const chart=echarts.init(document.getElementById('c'),null,{width:3941,height:3831,renderer:'canvas'});
chart.setOption({animation:false,backgroundColor:'#fff',textStyle:{fontFamily:SANS},grid:grids,xAxis:xAxes,yAxis:yAxes,visualMap:visualMaps,series,graphic:{elements:graphics}});
</script></body></html>
